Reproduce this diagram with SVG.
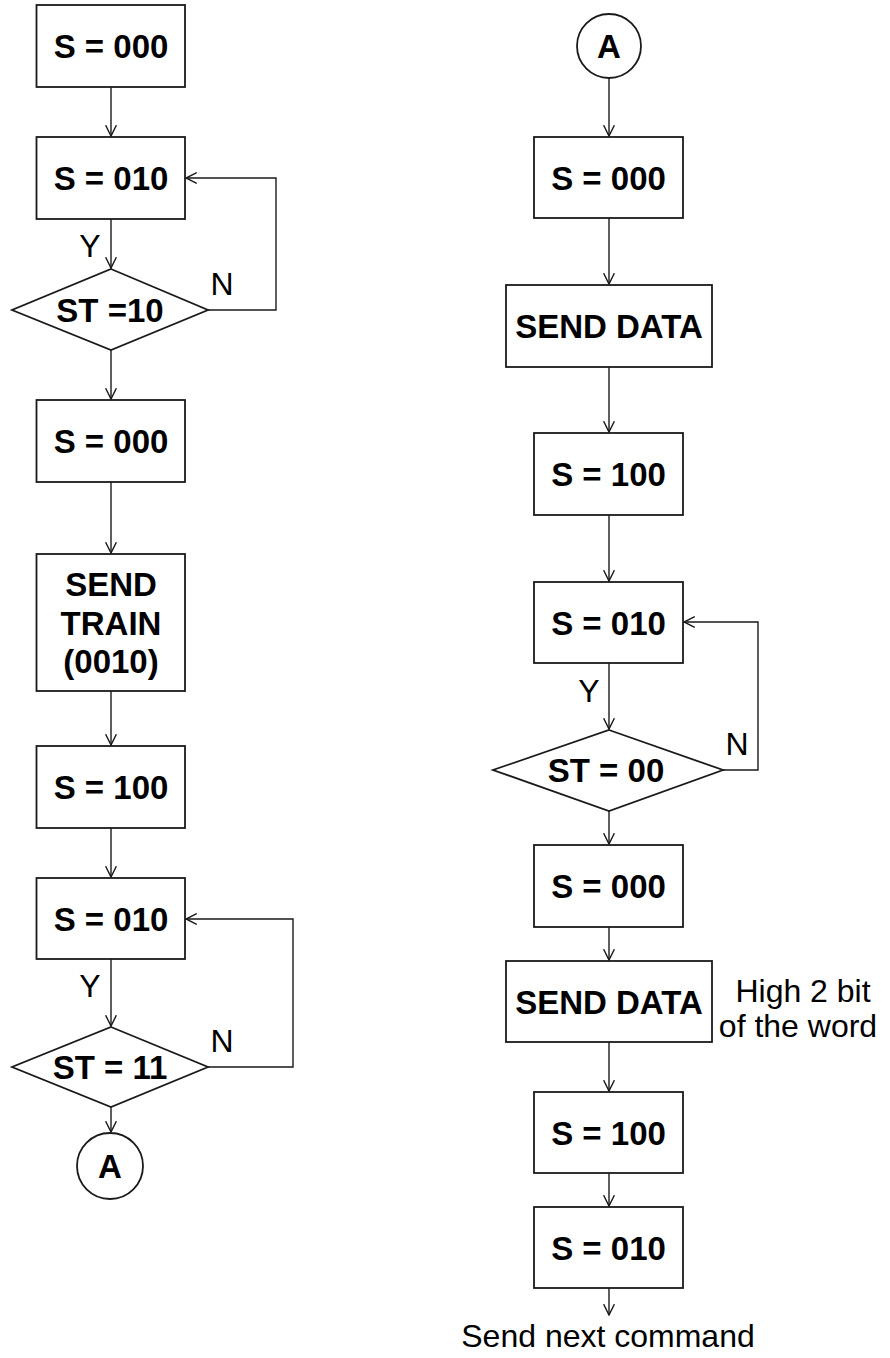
<svg xmlns="http://www.w3.org/2000/svg" width="890" height="1358" viewBox="0 0 890 1358">
<style>
.box{fill:#fff;stroke:#1a1a1a;stroke-width:1.8}
.b{font-family:"Liberation Sans",Arial,sans-serif;font-weight:bold;font-size:33px;text-anchor:middle;fill:#000}
.r{font-family:"Liberation Sans",Arial,sans-serif;font-size:32px;fill:#000}
.c{fill:none;stroke:#1a1a1a;stroke-width:1.4}
</style>
<defs>
<marker id="ah" markerUnits="userSpaceOnUse" markerWidth="12" markerHeight="12" refX="9" refY="5" orient="auto" viewBox="0 0 10 10">
<path d="M0,0.5 L9,5 L0,9.5" fill="none" stroke="#1a1a1a" stroke-width="1.2"/>
</marker>
</defs>
<g id="connectors">
<path class="c" d="M111,87 V136" marker-end="url(#ah)"/>
<path class="c" d="M111,219 V268" marker-end="url(#ah)"/>
<path class="c" d="M208,310 H276 V178 H186" marker-end="url(#ah)"/>
<path class="c" d="M111,350 V399" marker-end="url(#ah)"/>
<path class="c" d="M111,482 V553" marker-end="url(#ah)"/>
<path class="c" d="M111,691 V745" marker-end="url(#ah)"/>
<path class="c" d="M111,828 V877" marker-end="url(#ah)"/>
<path class="c" d="M111,959 V1026" marker-end="url(#ah)"/>
<path class="c" d="M208,1067 H293 V919 H186" marker-end="url(#ah)"/>
<path class="c" d="M111,1107 V1132" marker-end="url(#ah)"/>
<path class="c" d="M609,78 V136" marker-end="url(#ah)"/>
<path class="c" d="M609,218 V284" marker-end="url(#ah)"/>
<path class="c" d="M609,367 V432" marker-end="url(#ah)"/>
<path class="c" d="M609,515 V581" marker-end="url(#ah)"/>
<path class="c" d="M609,663 V729" marker-end="url(#ah)"/>
<path class="c" d="M723,770 H758 V622 H684" marker-end="url(#ah)"/>
<path class="c" d="M609,811 V844" marker-end="url(#ah)"/>
<path class="c" d="M609,927 V960" marker-end="url(#ah)"/>
<path class="c" d="M609,1042 V1091" marker-end="url(#ah)"/>
<path class="c" d="M609,1173 V1206" marker-end="url(#ah)"/>
<path class="c" d="M609,1288 V1315" marker-end="url(#ah)"/>
</g>
<g id="labels">
<text class="r" x="90" y="257" text-anchor="middle">Y</text>
<text class="r" x="222" y="295" text-anchor="middle">N</text>
<text class="r" x="90" y="997" text-anchor="middle">Y</text>
<text class="r" x="222" y="1052" text-anchor="middle">N</text>
<text class="r" x="589" y="702" text-anchor="middle">Y</text>
<text class="r" x="737" y="755" text-anchor="middle">N</text>
</g>
<g id="L1"><rect class="box" x="36.5" y="5" width="148.5" height="82"/><text class="b" x="111" y="58">S = 000</text></g>
<g id="L2"><rect class="box" x="36.5" y="137" width="148.5" height="82"/><text class="b" x="111" y="190">S = 010</text></g>
<g id="L3"><polygon class="box" points="111,269 208,310 111,350 12,310"/><text class="b" x="110" y="322">ST =10</text></g>
<g id="L4"><rect class="box" x="36.5" y="400" width="148.5" height="82"/><text class="b" x="111" y="453">S = 000</text></g>
<g id="L5"><rect class="box" x="36.5" y="554" width="148.5" height="137"/><text class="b" x="111" y="596">SEND</text><text class="b" x="111" y="634.5">TRAIN</text><text class="b" x="111" y="673">(0010)</text></g>
<g id="L6"><rect class="box" x="36.5" y="746" width="148.5" height="82"/><text class="b" x="111" y="799">S = 100</text></g>
<g id="L7"><rect class="box" x="36.5" y="878" width="148.5" height="81"/><text class="b" x="111" y="930.5">S = 010</text></g>
<g id="L8"><polygon class="box" points="111,1027 208,1067 111,1107 12,1067"/><text class="b" x="110" y="1079">ST = 11</text></g>
<g id="L9"><circle class="box" cx="110" cy="1166" r="33"/><text class="b" x="110" y="1178">A</text></g>
<g id="R1"><circle class="box" cx="609" cy="46" r="32"/><text class="b" x="609" y="58">A</text></g>
<g id="R2"><rect class="box" x="534" y="137" width="149" height="81"/><text class="b" x="608.5" y="189.5">S = 000</text></g>
<g id="R3"><rect class="box" x="506" y="285" width="206" height="82"/><text class="b" x="609" y="338">SEND DATA</text></g>
<g id="R4"><rect class="box" x="534" y="433" width="149" height="82"/><text class="b" x="608.5" y="486">S = 100</text></g>
<g id="R5"><rect class="box" x="534" y="582" width="149" height="81"/><text class="b" x="608.5" y="634.5">S = 010</text></g>
<g id="R6"><polygon class="box" points="609,730 723,770 609,811 493,770"/><text class="b" x="606" y="782">ST = 00</text></g>
<g id="R7"><rect class="box" x="534" y="845" width="149" height="82"/><text class="b" x="608.5" y="898">S = 000</text></g>
<g id="R8"><rect class="box" x="506" y="961" width="206" height="81"/><text class="b" x="609" y="1013.5">SEND DATA</text></g>
<g id="R8note"><text class="r" x="803" y="1002" text-anchor="middle">High 2 bit</text><text class="r" x="798" y="1037" text-anchor="middle">of the word</text></g>
<g id="R9"><rect class="box" x="534" y="1092" width="149" height="81"/><text class="b" x="608.5" y="1144.5">S = 100</text></g>
<g id="R10"><rect class="box" x="534" y="1207" width="149" height="81"/><text class="b" x="608.5" y="1259.5">S = 010</text></g>
<g id="end"><text class="r" x="608" y="1347" text-anchor="middle">Send next command</text></g>
</svg>
